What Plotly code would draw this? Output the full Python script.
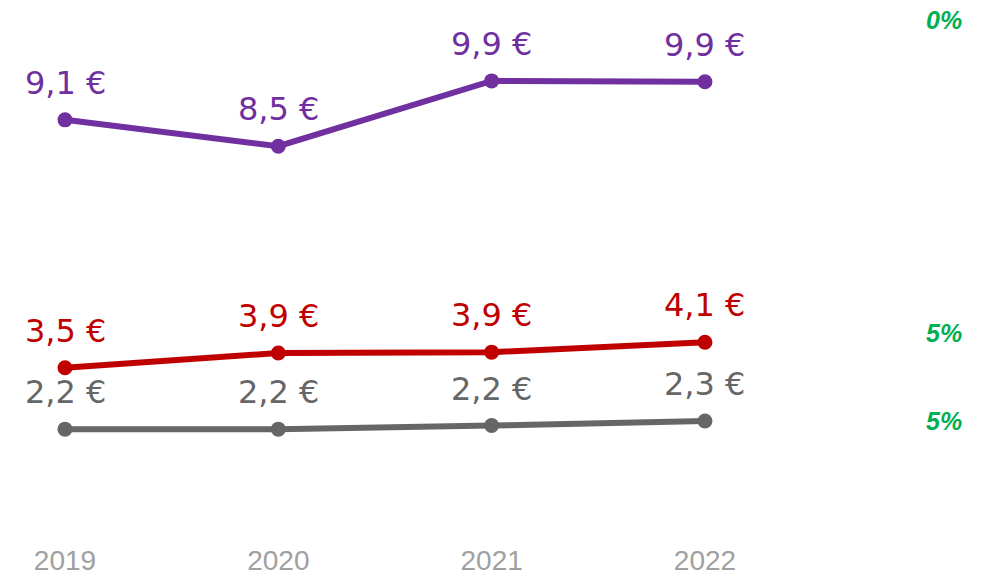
import plotly.graph_objects as go

years = ["2019", "2020", "2021", "2022"]
purple_vals = [9.07, 8.48, 9.94, 9.92]
red_vals = [3.53, 3.86, 3.88, 4.10]
gray_vals = [2.16, 2.16, 2.24, 2.34]
changes = ["0%", "5%", "5%"]

series = [
    (purple_vals, "#7030A0"),
    (red_vals, "#C00000"),
    (gray_vals, "#666666"),
]

fig = go.Figure()
annotations = []
for vals, col in series:
    fig.add_trace(go.Scatter(
        x=years, y=vals, mode="lines+markers",
        line=dict(color=col, width=6),
        marker=dict(color=col, size=15),
        hoverinfo="skip", showlegend=False,
    ))
    for i, yv in enumerate(vals):
        annotations.append(dict(
            x=i, y=yv, xref="x", yref="y",
            text=f"{yv:.1f}".replace(".", ",") + " €",
            showarrow=False, yanchor="middle", xanchor="center", yshift=37,
            font=dict(family="DejaVu Sans", size=32, color=col),
        ))

# growth labels on the right (paper coords)
W, H = 994, 577
b_margin = 40
plot_h = H - b_margin
change_py = [20, 333, 421]
for txt, py in zip(changes, change_py):
    annotations.append(dict(
        x=944 / W, y=1 - py / plot_h, xref="paper", yref="paper",
        text=txt, showarrow=False, xanchor="center", yanchor="middle",
        font=dict(family="Liberation Sans", size=25, color="#00B050",
                  weight="bold", style="italic"),
    ))

fig.update_layout(
    width=W, height=H,
    margin=dict(l=0, r=0, t=0, b=b_margin, autoexpand=False),
    paper_bgcolor="white", plot_bgcolor="white",
    annotations=annotations,
    xaxis=dict(
        type="category", range=[-0.3047, 4.355], automargin=False,
        showgrid=False, zeroline=False, showline=False,
        tickfont=dict(family="Liberation Sans", size=28, color="#A0A0A0"),
        ticks="", ticklabelstandoff=4,
    ),
    yaxis=dict(
        range=[-0.25, 11.747], showticklabels=False, ticks="", automargin=False,
        showgrid=False, zeroline=False, showline=False,
    ),
)

fig.write_html("out.html", config={"displayModeBar": False},
               post_script="document.body.style.margin='0';")
